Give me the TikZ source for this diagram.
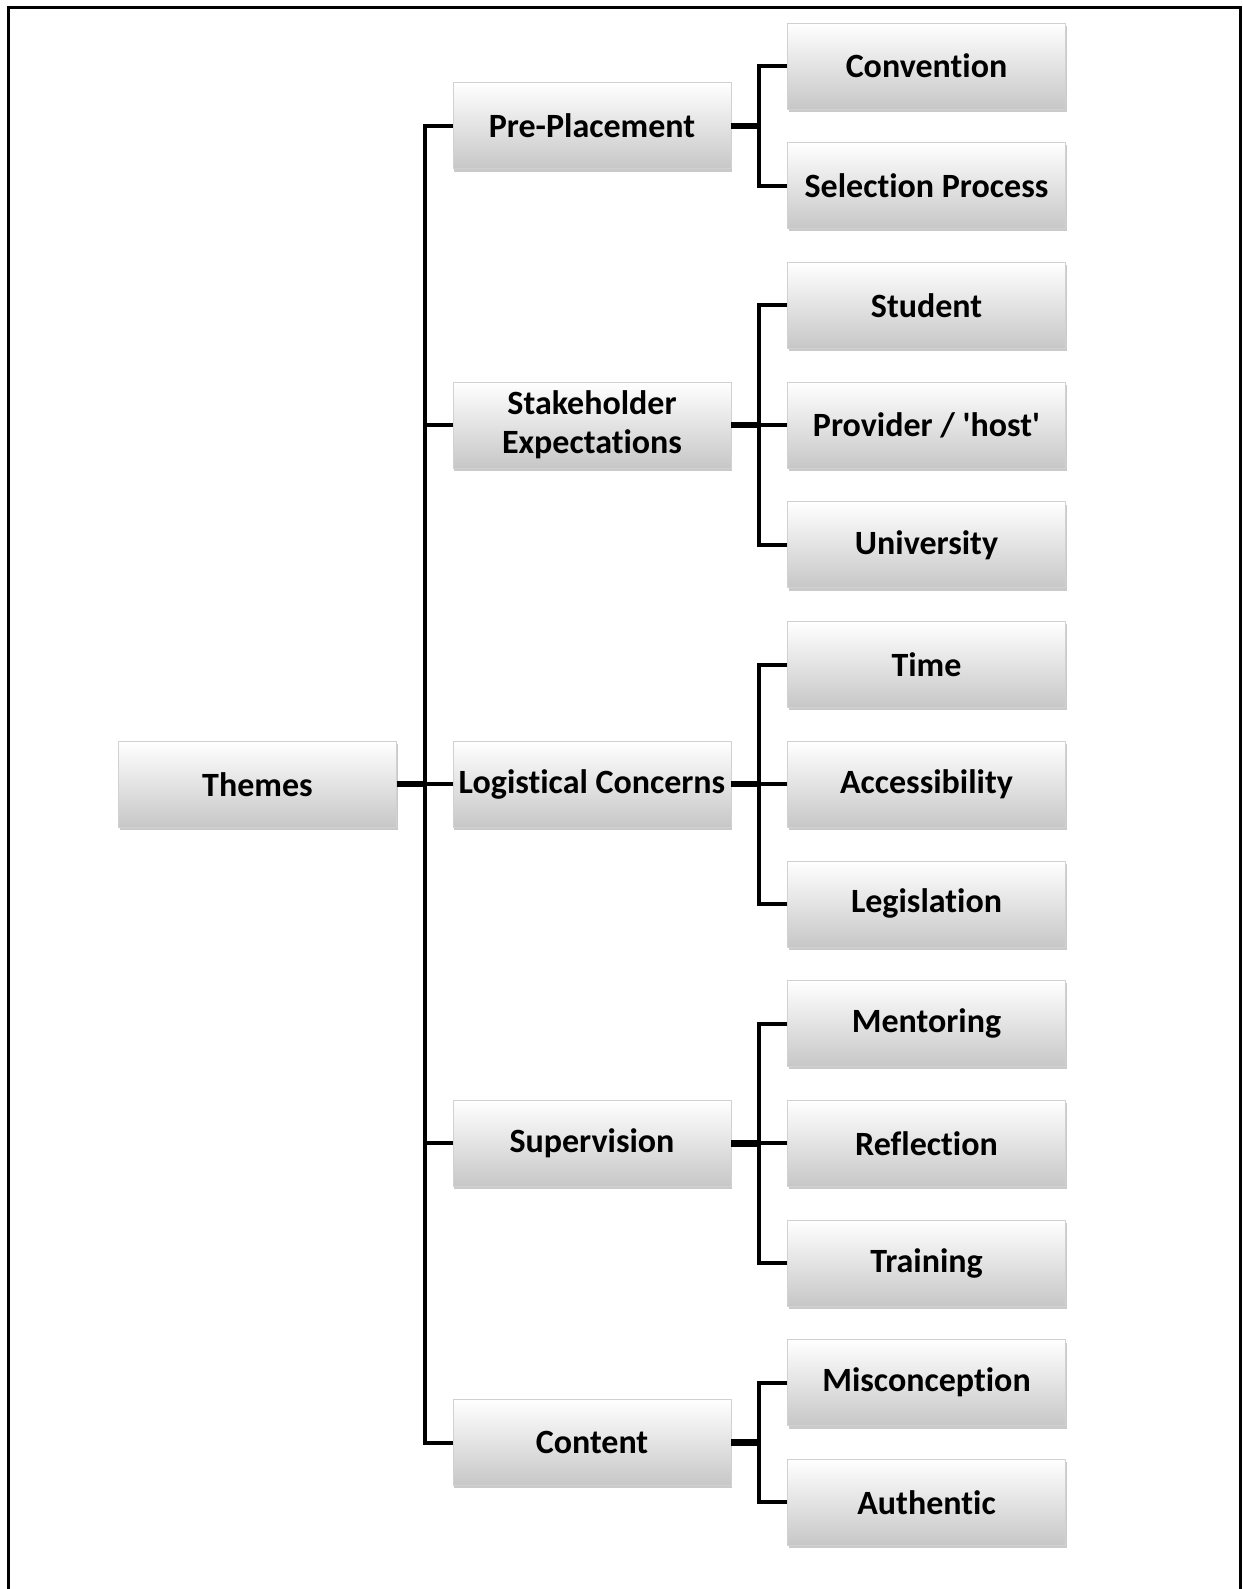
\documentclass[tikz,border=0pt]{standalone}
\usepackage{fontspec}
\setmainfont{Carlito}
\newfontfamily\carl{Carlito}[Ligatures=NoCommon]
\usetikzlibrary{shadows}
\tikzset{
  box/.style={rectangle, minimum width=139pt, minimum height=43pt, inner sep=1pt,
    top color=white, bottom color=black!22, draw=black!18, line width=0.4pt,
    drop shadow={shadow xshift=0.6pt, shadow yshift=-1.4pt, opacity=0.35, fill=black!60},
    font=\carl\fontsize{17pt}{19.5pt}\selectfont\bfseries, text=black, align=center},
  conn/.style={line width=2pt, line join=miter, black},
  stub/.style={line width=3.2pt, black},
  frame/.style={line width=1.5pt, black}
}
\begin{document}
\begin{tikzpicture}[x=0.5pt,y=-0.5pt]
\useasboundingbox (0,0) rectangle (1242,1589);
\draw[frame] (8,1592) -- (8,8) -- (1240,8) -- (1240,1592);

% level 1
\node[box] (themes) at (257.5,784.2) {Themes};
% level 2
\node[box] (pre) at (592,125.9) {Pre-Placement};
\node[box] (stake) at (592,425.1) {Stakeholder\\Expectations};
\node[box] (logi) at (592,784.2) {Logistical Concerns};
\node[box] (super) at (592,1143.3) {Supervision};
\node[box] (content) at (592,1442.6) {Content};
% level 3
\node[box] (conv) at (926.5,66) {Convention};
\node[box] (sel) at (926.5,185.7) {Selection Process};
\node[box] (stud) at (926.5,305.4) {Student};
\node[box] (prov) at (926.5,425.1) {Provider / 'host'};
\node[box] (univ) at (926.5,544.8) {University};
\node[box] (time) at (926.5,664.5) {Time};
\node[box] (acc) at (926.5,784.2) {Accessibility};
\node[box] (leg) at (926.5,903.9) {Legislation};
\node[box] (ment) at (926.5,1023.6) {Mentoring};
\node[box] (refl) at (926.5,1143.3) {Reflection};
\node[box] (train) at (926.5,1263) {Training};
\node[box] (misc) at (926.5,1382.7) {Misconception};
\node[box] (auth) at (926.5,1502.4) {Authentic};

% junction coordinates
\coordinate (j0) at (424.5,784.2);
\coordinate (j1) at (758.8,125.9);
\coordinate (j2) at (758.8,425.1);
\coordinate (j3) at (758.8,784.2);
\coordinate (j4) at (758.8,1143.3);
\coordinate (j5) at (758.8,1442.6);

% level 1 -> level 2
\draw[conn] (j0) |- (pre.west);
\draw[conn] (j0) |- (stake.west);
\draw[conn] (j0) |- (logi.west);
\draw[conn] (j0) |- (super.west);
\draw[conn] (j0) |- (content.west);
\draw[stub] (themes.east) -- (j0);

% level 2 -> level 3
\draw[conn] (j1) |- (conv.west);
\draw[conn] (j1) |- (sel.west);
\draw[stub] (pre.east) -- (j1);

\draw[conn] (j2) |- (stud.west);
\draw[conn] (j2) |- (prov.west);
\draw[conn] (j2) |- (univ.west);
\draw[stub] (stake.east) -- (j2);

\draw[conn] (j3) |- (time.west);
\draw[conn] (j3) |- (acc.west);
\draw[conn] (j3) |- (leg.west);
\draw[stub] (logi.east) -- (j3);

\draw[conn] (j4) |- (ment.west);
\draw[conn] (j4) |- (refl.west);
\draw[conn] (j4) |- (train.west);
\draw[stub] (super.east) -- (j4);

\draw[conn] (j5) |- (misc.west);
\draw[conn] (j5) |- (auth.west);
\draw[stub] (content.east) -- (j5);
\end{tikzpicture}
\end{document}
